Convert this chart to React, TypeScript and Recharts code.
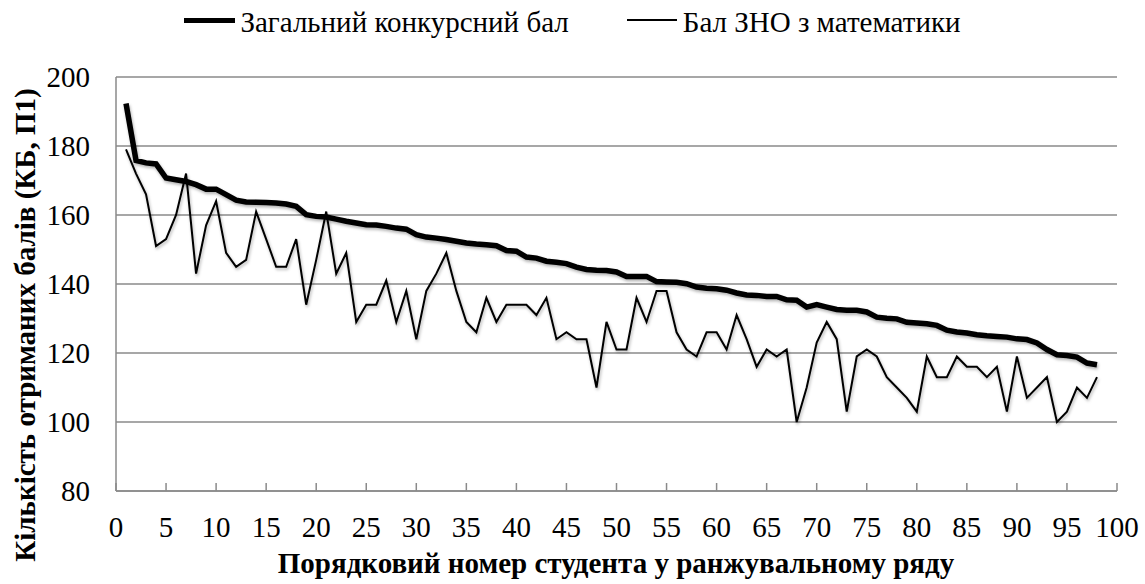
import { LineChart, Line, XAxis, YAxis, CartesianGrid, Legend } from 'recharts'

// rank of the student in the ordered list (1..98)
const students = Array.from({ length: 98 }, (_, i) => i + 1)

const totalScore = [
  192.3, 175.8, 175.1, 174.8, 170.7, 170.2, 169.7, 168.8, 167.5, 167.5,
  165.9, 164.3, 163.8, 163.7, 163.6, 163.5, 163.2, 162.5, 160.1, 159.6,
  159.4, 158.8, 158.2, 157.7, 157.2, 157.1, 156.7, 156.2, 155.9, 154.3,
  153.6, 153.3, 152.9, 152.4, 151.9, 151.6, 151.4, 151.1, 149.7, 149.5,
  147.8, 147.5, 146.6, 146.3, 145.9, 144.9, 144.2, 144.0, 143.9, 143.5,
  142.2, 142.2, 142.2, 140.7, 140.6, 140.5, 140.1, 139.1, 138.8, 138.6,
  138.2, 137.4, 136.8, 136.7, 136.4, 136.4, 135.4, 135.3, 133.3, 134.0,
  133.3, 132.6, 132.4, 132.4, 131.9, 130.4, 130.1, 129.9, 128.9, 128.7,
  128.5, 128.0, 126.6, 126.1, 125.8, 125.3, 125.0, 124.8, 124.6, 124.1,
  123.9, 122.9, 121.0, 119.5, 119.3, 118.8, 117.1, 116.6,
]

const mathScore = [
  179, 172, 166, 151, 153, 160, 172, 143, 157, 164,
  149, 145, 147, 161, 153, 145, 145, 153, 134, 147,
  161, 143, 149, 129, 134, 134, 141, 129, 138, 124,
  138, 143, 149, 138, 129, 126, 136, 129, 134, 134,
  134, 131, 136, 124, 126, 124, 124, 110, 129, 121,
  121, 136, 129, 138, 138, 126, 121, 119, 126, 126,
  121, 131, 124, 116, 121, 119, 121, 100, 110, 123,
  129, 124, 103, 119, 121, 119, 113, 110, 107, 103,
  119, 113, 113, 119, 116, 116, 113, 116, 103, 119,
  107, 110, 113, 100, 103, 110, 107, 113,
]

const xTicks = [0, 5, 10, 15, 20, 25, 30, 35, 40, 45, 50, 55, 60, 65, 70, 75, 80, 85, 90, 95, 100]
const yTicks = [80, 100, 120, 140, 160, 180, 200]

const seriesNames = ['Загальний конкурсний бал', 'Бал ЗНО з математики']

const data = students.map((n, i) => ({ n, total: totalScore[i], math: mathScore[i] }))

const FONT = 'Liberation Serif, Tinos, Times New Roman, DejaVu Serif, serif'
const GRID = '#8a8a8a'

function LegendBox() {
  return (
    <div style={{ display: 'flex', justifyContent: 'center', alignItems: 'center', height: 40, fontFamily: FONT, fontSize: 29, color: '#000' }}>
      <span style={{ display: 'inline-block', width: 51, height: 5, background: '#000', marginRight: 5, marginTop: -4 }} />
      <span>{seriesNames[0]}</span>
      <span style={{ display: 'inline-block', width: 50, height: 2, background: '#000', marginLeft: 58, marginRight: 6, marginTop: -4 }} />
      <span>{seriesNames[1]}</span>
    </div>
  )
}

export default function App() {
  return (
    <div style={{ position: 'absolute', left: 0, top: 0, width: 1145, height: 584, background: '#fff', fontFamily: FONT }}>
      <LineChart width={1145} height={584} data={data} margin={{ top: 37, right: 28, left: 0, bottom: 0 }} style={{ fontFamily: FONT }}>
        <defs>
          <filter id="lineShadow" x="-5%" y="-5%" width="110%" height="120%">
            <feDropShadow dx="1" dy="2" stdDeviation="1.5" floodColor="#000" floodOpacity="0.3" />
          </filter>
        </defs>
        <Legend verticalAlign="top" content={() => <LegendBox />} wrapperStyle={{ top: 2, left: 0, width: 1145, height: 40 }} />
        <CartesianGrid stroke={GRID} strokeWidth={1.5} vertical={false} />
        <XAxis
          dataKey="n"
          type="number"
          domain={[0, 100]}
          ticks={xTicks}
          interval={0}
          height={93}
          stroke={GRID}
          strokeWidth={1.5}
          tickSize={-8}
          tickMargin={33}
          tick={{ fill: '#000', fontSize: 29, fontFamily: FONT }}
          label={{
            content: () => (
              <text x={616} y={573} textAnchor="middle" style={{ fontFamily: FONT }} fontSize={29} fontWeight="bold" fill="#000">
                Порядковий номер студента у ранжувальному ряду
              </text>
            ),
          }}
        />
        <YAxis
          type="number"
          domain={[80, 200]}
          ticks={yTicks}
          width={116}
          stroke={GRID}
          strokeWidth={1.5}
          tickLine={false}
          tickMargin={20}
          tick={{ fill: '#000', fontSize: 29, fontFamily: FONT }}
          label={{
            content: () => (
              <text x={25} y={325} transform="rotate(-90 25 325)" textAnchor="middle" dominantBaseline="central" style={{ fontFamily: FONT }} fontSize={29} fontWeight="bold" fill="#000">
                Кількість отриманих балів (КБ, П1)
              </text>
            ),
          }}
        />
        <Line type="linear" dataKey="math" name={seriesNames[1]} stroke="#000" strokeWidth={2} dot={false} filter="url(#lineShadow)" isAnimationActive={false} />
        <Line type="linear" dataKey="total" name={seriesNames[0]} stroke="#000" strokeWidth={5.5} dot={false} filter="url(#lineShadow)" isAnimationActive={false} />
      </LineChart>
    </div>
  )
}
